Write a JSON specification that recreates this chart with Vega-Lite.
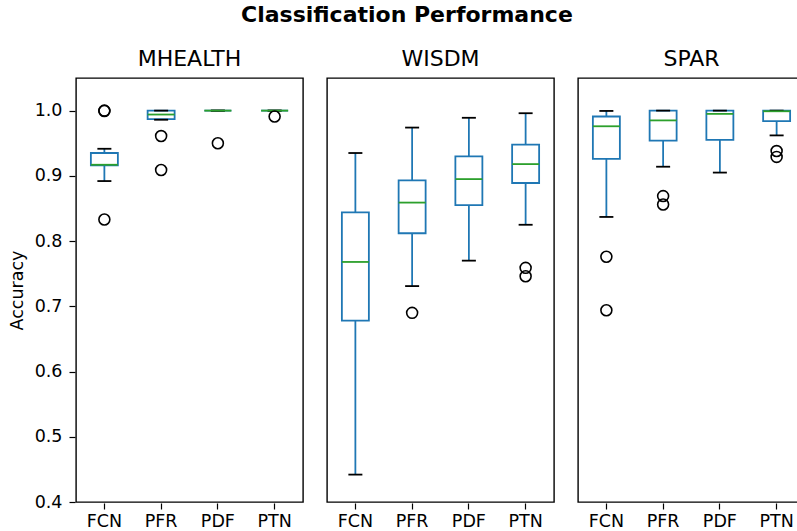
{
  "$schema": "https://vega.github.io/schema/vega-lite/v6.json",
  "title": {"text": "Classification Performance", "fontSize": 22, "fontWeight": "bold", "font": "DejaVu Sans", "anchor": "middle", "color": "black", "offset": 21},
  "padding": {"left": 8, "top": 4, "right": 0, "bottom": 5},
  "data": {"values": [
    {"dataset": "MHEALTH", "model": "FCN", "lo": 0.892, "q1": 0.916, "med": 0.917, "q3": 0.935, "hi": 0.9415},
    {"dataset": "MHEALTH", "model": "PFR", "lo": 0.986, "q1": 0.987, "med": 0.994, "q3": 1.0, "hi": 1.0},
    {"dataset": "MHEALTH", "model": "PDF", "lo": 1.0, "q1": 1.0, "med": 1.0, "q3": 1.0, "hi": 1.0},
    {"dataset": "MHEALTH", "model": "PTN", "lo": 1.0, "q1": 1.0, "med": 1.0, "q3": 1.0, "hi": 1.0},
    {"dataset": "WISDM", "model": "FCN", "lo": 0.442, "q1": 0.678, "med": 0.768, "q3": 0.844, "hi": 0.935},
    {"dataset": "WISDM", "model": "PFR", "lo": 0.731, "q1": 0.812, "med": 0.859, "q3": 0.893, "hi": 0.974},
    {"dataset": "WISDM", "model": "PDF", "lo": 0.770, "q1": 0.855, "med": 0.895, "q3": 0.930, "hi": 0.989},
    {"dataset": "WISDM", "model": "PTN", "lo": 0.825, "q1": 0.889, "med": 0.918, "q3": 0.948, "hi": 0.996},
    {"dataset": "SPAR", "model": "FCN", "lo": 0.837, "q1": 0.926, "med": 0.976, "q3": 0.991, "hi": 0.9995},
    {"dataset": "SPAR", "model": "PFR", "lo": 0.914, "q1": 0.954, "med": 0.985, "q3": 1.0, "hi": 1.0},
    {"dataset": "SPAR", "model": "PDF", "lo": 0.905, "q1": 0.955, "med": 0.995, "q3": 1.0, "hi": 1.0},
    {"dataset": "SPAR", "model": "PTN", "lo": 0.962, "q1": 0.984, "med": 0.999, "q3": 1.0, "hi": 1.0},
    {"dataset": "MHEALTH", "model": "FCN", "out": 1.0},
    {"dataset": "MHEALTH", "model": "FCN", "out": 0.9995},
    {"dataset": "MHEALTH", "model": "FCN", "out": 0.833},
    {"dataset": "MHEALTH", "model": "PFR", "out": 0.961},
    {"dataset": "MHEALTH", "model": "PFR", "out": 0.909},
    {"dataset": "MHEALTH", "model": "PDF", "out": 0.950},
    {"dataset": "MHEALTH", "model": "PTN", "out": 0.991},
    {"dataset": "WISDM", "model": "PFR", "out": 0.690},
    {"dataset": "WISDM", "model": "PTN", "out": 0.759},
    {"dataset": "WISDM", "model": "PTN", "out": 0.746},
    {"dataset": "SPAR", "model": "FCN", "out": 0.776},
    {"dataset": "SPAR", "model": "FCN", "out": 0.694},
    {"dataset": "SPAR", "model": "PFR", "out": 0.869},
    {"dataset": "SPAR", "model": "PFR", "out": 0.856},
    {"dataset": "SPAR", "model": "PTN", "out": 0.938},
    {"dataset": "SPAR", "model": "PTN", "out": 0.929}
  ]},
  "facet": {
    "column": {
      "field": "dataset", "type": "nominal", "sort": ["MHEALTH", "WISDM", "SPAR"],
      "header": {"title": null, "labelFontSize": 22, "labelFont": "DejaVu Sans", "labelColor": "black", "labelPadding": 6}
    }
  },
  "spacing": 22,
  "spec": {
    "width": 227,
    "height": 424,
    "encoding": {
      "x": {"field": "model", "type": "nominal", "sort": ["FCN", "PFR", "PDF", "PTN"],
        "scale": {"type": "band", "paddingInner": 0, "paddingOuter": 0},
        "axis": {"title": null, "labelAngle": 0, "labelFontSize": 17.5, "labelFont": "DejaVu Sans", "labelColor": "black", "domain": false, "tickColor": "black", "tickSize": 6, "tickWidth": 1.2, "labelPadding": 3}}
    },
    "layer": [
      {
        "transform": [{"filter": "isValid(datum.med)"}],
        "mark": {"type": "rule", "color": "#1f77b4", "strokeWidth": 1.8},
        "encoding": {
          "y": {"field": "lo", "type": "quantitative",
            "scale": {"domain": [0.4, 1.05], "nice": false, "zero": false},
            "axis": {"title": "Accuracy", "titleFontSize": 17.5, "titleFontWeight": "normal", "titleFont": "DejaVu Sans", "titleColor": "black", "titlePadding": 8,
              "values": [0.4, 0.5, 0.6, 0.7, 0.8, 0.9, 1.0], "format": ".1f", "grid": false, "domain": false,
              "labelFontSize": 17.5, "labelFont": "DejaVu Sans", "labelColor": "black", "tickColor": "black", "tickSize": 6, "tickWidth": 1.2, "labelPadding": 7}},
          "y2": {"field": "q1"}
        }
      },
      {
        "transform": [{"filter": "isValid(datum.med)"}],
        "mark": {"type": "rule", "color": "#1f77b4", "strokeWidth": 1.8},
        "encoding": {"y": {"field": "q3", "type": "quantitative"}, "y2": {"field": "hi"}}
      },
      {
        "transform": [{"filter": "isValid(datum.med)"}],
        "mark": {"type": "bar", "fill": "white", "fillOpacity": 0, "stroke": "#1f77b4", "strokeWidth": 1.8, "size": 27},
        "encoding": {"y": {"field": "q1", "type": "quantitative"}, "y2": {"field": "q3"}}
      },
      {
        "transform": [{"filter": "isValid(datum.med)"}],
        "mark": {"type": "tick", "color": "black", "size": 14, "thickness": 1.8, "opacity": 1},
        "encoding": {"y": {"field": "lo", "type": "quantitative"}}
      },
      {
        "transform": [{"filter": "isValid(datum.med)"}],
        "mark": {"type": "tick", "color": "black", "size": 14, "thickness": 1.8, "opacity": 1},
        "encoding": {"y": {"field": "hi", "type": "quantitative"}}
      },
      {
        "transform": [{"filter": "isValid(datum.med)"}],
        "mark": {"type": "tick", "color": "#2ca02c", "size": 27, "thickness": 1.8, "opacity": 1},
        "encoding": {"y": {"field": "med", "type": "quantitative"}}
      },
      {
        "transform": [{"filter": "isValid(datum.out)"}],
        "mark": {"type": "point", "shape": "circle", "filled": false, "color": "black", "strokeWidth": 1.6, "size": 120, "opacity": 1},
        "encoding": {"y": {"field": "out", "type": "quantitative"}}
      }
    ]
  },
  "resolve": {"scale": {"y": "shared"}},
  "config": {
    "view": {"stroke": "black", "strokeWidth": 1.4},
    "font": "DejaVu Sans"
  }
}
